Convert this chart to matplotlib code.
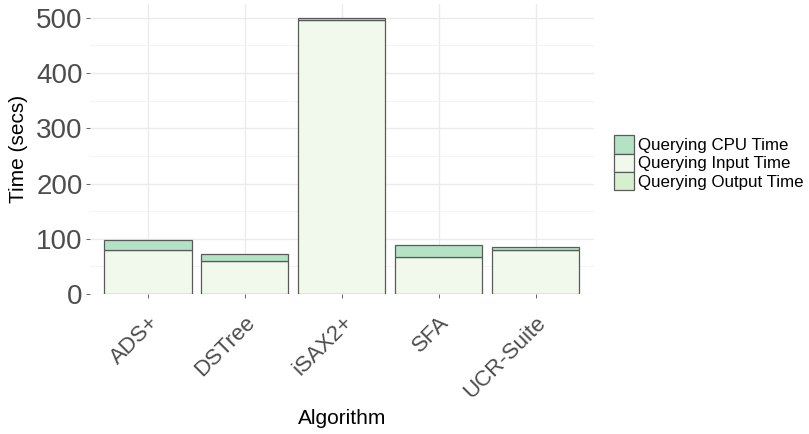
import matplotlib.pyplot as plt
import numpy as np

plt.rcParams['font.family'] = ['Liberation Sans', 'DejaVu Sans']

# values (seconds)
algorithms = ['ADS+', 'DSTree', 'iSAX2+', 'SFA', 'UCR-Suite']
output_time = [0.3, 0.3, 0.3, 0.3, 0.3]
input_time = [80, 59, 496, 66, 80]
cpu_time = [18, 13.5, 3, 22, 4]

series_labels = ['Querying CPU Time', 'Querying Input Time', 'Querying Output Time']
colors = {'cpu': '#b3e2c5', 'input': '#f1f8ec', 'output': '#d6efcf'}

fig = plt.figure(figsize=(8.09, 4.34), dpi=100)
ax = fig.add_axes([0.111, 0.3226, 0.623, 0.668])

x = np.arange(1, len(algorithms) + 1)
width = 0.9
edge = dict(edgecolor='#5a5a5a', linewidth=0.9)

out = np.array(output_time)
inp = np.array(input_time)
cpu = np.array(cpu_time)

b_out = ax.bar(x, out, width, color=colors['output'], **edge, zorder=3)
b_inp = ax.bar(x, inp, width, bottom=out, color=colors['input'], **edge, zorder=3)
b_cpu = ax.bar(x, cpu, width, bottom=out + inp, color=colors['cpu'], **edge, zorder=3)

ax.set_xlim(0.4, 5.6)
ax.set_ylim(0, 525)
ax.set_yticks([0, 100, 200, 300, 400, 500])
ax.set_yticks([50, 150, 250, 350, 450], minor=True)
ax.set_xticks(x)
ax.set_xticklabels(algorithms, rotation=45, ha='right', rotation_mode='anchor',
                   fontsize=16, color='#4d4d4d')
ax.tick_params(axis='y', labelsize=20, labelcolor='#4d4d4d', length=3,
               color='#4d4d4d', width=0.6, pad=2)
ax.tick_params(axis='y', which='minor', length=0)
ax.tick_params(axis='x', length=3, color='#4d4d4d', width=0.6, pad=10)

ax.grid(True, which='major', color='#ebebeb', linewidth=1.0, zorder=0)
ax.grid(True, which='minor', axis='y', color='#f3f3f3', linewidth=0.6, zorder=0)
for s in ax.spines.values():
    s.set_visible(False)

ax.set_ylabel('Time (secs)', fontsize=15, labelpad=6)
ax.set_xlabel('Algorithm', fontsize=15, labelpad=5)

fig.legend([b_cpu, b_inp, b_out], series_labels, loc='center left',
           bbox_to_anchor=(0.748, 0.625), frameon=False, fontsize=12.2,
           handlelength=1.2, handleheight=1.3, handletextpad=0.25,
           labelspacing=0.0, borderpad=0)

fig.savefig('out.png', dpi=100)
